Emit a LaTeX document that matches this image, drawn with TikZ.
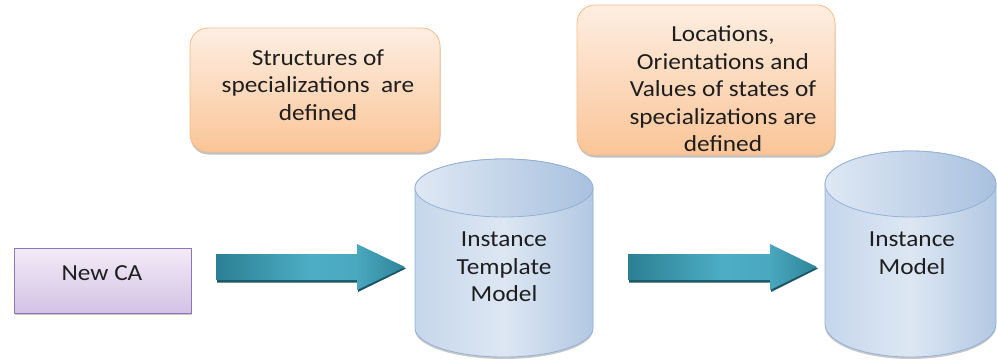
\documentclass[tikz,border=0pt]{standalone}
\usepackage{fontspec}
\setmainfont[FakeStretch=1.1]{Carlito}
\usetikzlibrary{shadows}

\definecolor{txt}{HTML}{1E1E1E}
\definecolor{peachT}{HTML}{FDEEE2}
\definecolor{peachB}{HTML}{FAC597}
\definecolor{peachE}{HTML}{F6BC88}
\definecolor{lavT}{HTML}{F2EBF7}
\definecolor{lavB}{HTML}{D4C2E5}
\definecolor{lavE}{HTML}{8E76B6}
\definecolor{tealS}{HTML}{1C5663}
\definecolor{cylL}{HTML}{C6D6EB}
\definecolor{cylM}{HTML}{DDE7F3}
\definecolor{cylR}{HTML}{B2C8E3}
\definecolor{cylTopL}{HTML}{DFE8F4}
\definecolor{cylTopR}{HTML}{A9C1DF}
\definecolor{cylE}{HTML}{93B1D6}

% teal band: dark at the tail, light in the middle, dark again at the head
\pgfdeclarehorizontalshading{tealband}{100bp}{%
  rgb(0bp)=(0.16,0.48,0.56);
  rgb(25bp)=(0.17,0.50,0.58);
  rgb(50bp)=(0.30,0.68,0.77);
  rgb(62bp)=(0.29,0.66,0.75);
  rgb(75bp)=(0.18,0.52,0.60);
  rgb(100bp)=(0.17,0.50,0.58)}

\tikzset{
  labeltext/.style={font=\fontsize{23}{27.5}\selectfont, text=txt, align=center, inner sep=0pt},
  notebox/.style={rounded corners=18pt, draw=peachE, line width=0.8pt,
    top color=peachT, bottom color=peachB, inner sep=0pt,
    drop shadow={shadow xshift=0.5pt, shadow yshift=-2.5pt, opacity=0.35, fill=black!70}},
  sourcebox/.style={draw=lavE, line width=0.9pt, top color=lavT, bottom color=lavB,
    inner sep=0pt, drop shadow={shadow xshift=1pt, shadow yshift=-1.5pt, opacity=0.3, fill=black!70}},
  cylbody/.style={draw=cylE, line width=0.8pt, left color=cylL, right color=cylR, middle color=cylM,
    drop shadow={shadow xshift=0pt, shadow yshift=-2pt, opacity=0.3, fill=black!70}},
  cyltop/.style={draw=cylE, line width=0.8pt, left color=cylTopL, right color=cylTopR},
  arrowbody/.style={shading=tealband},
  arrowedge/.style={fill=tealS},
}

% database cylinder: #1 name, #2 left x, #3 right x, #4 top centre y, #5 bottom centre y, #6 y radius
\newcommand\dbcylinder[6]{%
  \pgfmathsetmacro\cylrx{(#3-#2)/2}%
  \coordinate (#1) at ({(#2+#3)/2},{(#4+#5)/2});
  \path[cylbody] (#2,#4) -- (#2,#5)
    arc[start angle=180, end angle=360, x radius=\cylrx, y radius=#6]
    -- (#3,#4)
    arc[start angle=0, end angle=180, x radius=\cylrx, y radius=#6] -- cycle;
  \path[cyltop] ({(#2+#3)/2},#4) ellipse[x radius=\cylrx, y radius=#6];
}

% block arrow: #1 name, #2 tail x, #3 head base x, #4 tip x, #5 centre y
\newcommand\blockarrow[5]{%
  \coordinate (#1) at (#4,#5);
  \fill[arrowedge] (#2+1,#5-15.5) -- (#3+1,#5-15.5) -- (#3+1,#5-25) -- (#4+1,#5-1.5)
    -- (#3+1,#5+21) -- (#3+1,#5+11) -- (#2+1,#5+11) -- cycle;
  \shade[arrowbody] (#2,#5-13) -- (#3,#5-13) -- (#3,#5-23) -- (#4,#5)
    -- (#3,#5+23) -- (#3,#5+13) -- (#2,#5+13) -- cycle;
}

\begin{document}
\begin{tikzpicture}[x=1pt,y=1pt]
  \useasboundingbox (0,0) rectangle (997,360);

  % the two annotation boxes
  \node[notebox, minimum width=250pt, minimum height=124pt] (structbox) at (315,270) {};
  \node[labeltext] (structtxt) at (318,275)
    {Structures of\\specializations\ \ are\\defined};

  \node[notebox, minimum width=258pt, minimum height=150pt] (statebox) at (706,280) {};
  \node[labeltext] (statetxt) at (723,271)
    {Locations,\\Orientations and\\Values of states of\\specializations are\\defined};

  % source element
  \node[sourcebox, minimum width=177pt, minimum height=65pt] (newca) at (102.5,79.5) {};
  \node[labeltext] (newcatxt) at (102,87) {New CA};

  % flow arrows
  \blockarrow{arrowA}{216}{357}{405}{93}
  \blockarrow{arrowB}{628}{770}{817}{93}

  % model stores
  \dbcylinder{tmplcyl}{415}{593}{172}{32}{29}
  \node[labeltext] (tmpltxt) at (504,93) {Instance\\Template\\Model};

  \dbcylinder{instcyl}{825}{996}{176}{36}{33}
  \node[labeltext] (insttxt) at (912,107) {Instance\\Model};
\end{tikzpicture}
\end{document}
